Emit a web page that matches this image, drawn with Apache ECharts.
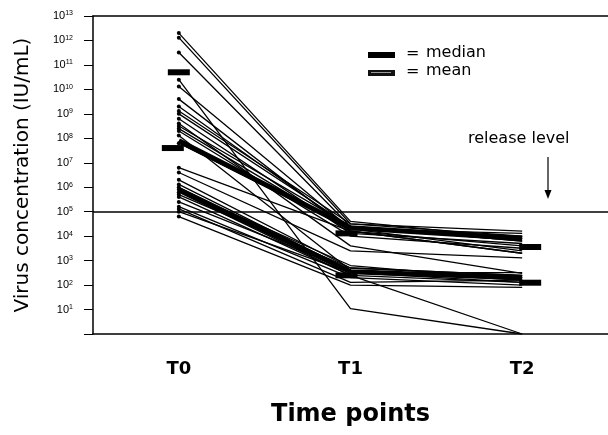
<!DOCTYPE html>
<html>
<head>
<meta charset="utf-8">
<script src="https://cdn.jsdelivr.net/npm/echarts@6/dist/echarts.min.js"></script>
<style>
  html, body { margin: 0; padding: 0; background: #fff; }
  #chart { width: 608px; height: 435px; }
</style>
</head>
<body>
<div id="chart"></div>
<script>
// categories (time points)
var categories = ['T0', 'T1', 'T2'];

// individual samples, IU/mL at T0, T1, T2
var samples = [
	[2e12, 4e4, 8e3],
	[1.3e12, 3.2e4, 1e4],
	[3.2e11, 2.5e4, 6.3e3],
	[2.5e10, 11, 1],
	[1.3e10, 2e4, 2.5e3],
	[4e9, 1.6e4, 2e3],
	[2e9, 2e4, 1.3e4],
	[1.3e9, 3.2e4, 1.6e4],
	[1e9, 2.5e4, 8e3],
	[6.3e8, 1.3e4, 5e3],
	[4e8, 4e3, 300],
	[3.2e8, 2.5e4, 6.3e3],
	[2.5e8, 1.6e4, 4e3],
	[2e8, 1e4, 3.2e3],
	[1.3e8, 400, 160],
	[6.3e7, 2e4, 1e4],
	[6.3e6, 1.6e4, 2e3],
	[4e6, 2.5e3, 1.3e3],
	[2e6, 500, 250],
	[1.3e6, 400, 200],
	[1e6, 320, 320],
	[8e5, 630, 160],
	[6.3e5, 250, 130],
	[5e5, 500, 250],
	[4e5, 250, 1],
	[2.5e5, 400, 200],
	[1.6e5, 200, 100],
	[1.3e5, 130, 160],
	[1e5, 320, 130],
	[6.3e4, 100, 80]
];

// medians (two groups)
var medianHigh = [8e7, 2.2e4, 8e3];
var medianLow = [8e5, 350, 200];
// means (two groups)
var meanHigh = [5e10, 1.3e4, 3.6e3];
var meanLow = [4e7, 250, 125];

var releaseLevel = 1e5;

var chart = echarts.init(document.getElementById('chart'));
var font = 'Liberation Sans, Arial, sans-serif';
var wide = 'DejaVu Sans, sans-serif';

// 시리즈 구성
var seriesList = [];
samples.forEach(function (s) {
	seriesList.push({
		type: 'line',
		data: s,
		symbol: 'circle',
		symbolSize: function (v, p) { return p.dataIndex === 0 ? 4 : 0; },
		itemStyle: { color: '#000' },
		lineStyle: { color: '#000', width: 1.3 },
		silent: true,
		z: 2
	});
});
[medianHigh, medianLow].forEach(function (m, i) {
	seriesList.push({
		type: 'line',
		data: m,
		showSymbol: false,
		lineStyle: { color: '#000', width: 5 },
		silent: true,
		z: 3,
		markLine: i === 0 ? {
			silent: true,
			symbol: ['none', 'none'],
			label: { show: false },
			lineStyle: { color: '#000', width: 1.5, type: 'solid' },
			data: [{ yAxis: releaseLevel }]
		} : undefined
	});
});
var meanOffsets = [[[0, 0], [-4, 0], [8, 0]], [[-6, 0], [-4, 0], [8, 0]]];
[meanHigh, meanLow].forEach(function (m, i) {
	seriesList.push({
		type: 'scatter',
		data: m.map(function (v, j) {
			return { value: [categories[j], v], symbolOffset: meanOffsets[i][j] };
		}),
		symbol: 'rect',
		symbolSize: [22, 6],
		itemStyle: { color: '#000', opacity: 1 },
		silent: true,
		z: 4
	});
});

var option = {
	animation: false,
	backgroundColor: '#fff',
	grid: { left: 93, right: 0, top: 16, bottom: 101 },
	xAxis: [{
		type: 'category',
		data: categories,
		boundaryGap: true,
		name: 'Time points',
		nameLocation: 'middle',
		nameGap: 69,
		nameTextStyle: { fontFamily: wide, fontSize: 24, fontWeight: 'bold', color: '#000' },
		axisLine: { lineStyle: { color: '#000', width: 1.5 } },
		axisTick: { length: 5, lineStyle: { color: '#000' } },
		axisLabel: { margin: 26, fontFamily: wide, fontSize: 18, fontWeight: 'bold', color: '#000' }
	}, {
		type: 'category',
		data: categories,
		position: 'top',
		axisLine: { lineStyle: { color: '#000', width: 1.5 } },
		axisTick: { show: false },
		axisLabel: { show: false }
	}],
	yAxis: {
		type: 'log',
		logBase: 10,
		min: 1,
		max: 1e13,
		interval: 1,
		name: 'Virus concentration (IU/mL)',
		nameLocation: 'middle',
		nameGap: 60,
		nameTextStyle: { fontFamily: wide, fontSize: 20, color: '#000' },
		axisLine: { show: true, lineStyle: { color: '#000', width: 1.5 } },
		axisTick: { show: true, length: 9, lineStyle: { color: '#000' } },
		splitLine: { show: false },
		axisLabel: {
			margin: 20,
			formatter: function (v) {
				var e = Math.round(Math.log10(v));
				if (e === 0) return '';
				return '{b|10}{s|' + e + '}';
			},
			rich: {
				b: { fontFamily: font, fontSize: 11, color: '#000', lineHeight: 12 },
				s: { fontFamily: font, fontSize: 7, color: '#000', verticalAlign: 'top', lineHeight: 12, padding: [0, 0, 5, 0] }
			}
		}
	},
	graphic: [
		{ type: 'rect', shape: { x: 368, y: 52, width: 27, height: 6 }, style: { fill: '#000' } },
		{ type: 'text', left: 406, top: 46, style: { text: '=', font: '16px ' + wide, fill: '#000' } },
		{ type: 'text', left: 426, top: 45, style: { text: 'median', font: '16px ' + wide, fill: '#000' } },
		{ type: 'rect', shape: { x: 368, y: 70, width: 27, height: 6 }, style: { fill: '#111' } },
		{ type: 'rect', shape: { x: 371, y: 72, width: 20, height: 1 }, style: { fill: '#999' } },
		{ type: 'text', left: 406, top: 64, style: { text: '=', font: '16px ' + wide, fill: '#000' } },
		{ type: 'text', left: 426, top: 63, style: { text: 'mean', font: '16px ' + wide, fill: '#000' } },
		{ type: 'text', left: 468, top: 131, style: { text: 'release level', font: '16px ' + wide, fill: '#000' } },
		{ type: 'line', shape: { x1: 548, y1: 157, x2: 548, y2: 192 }, style: { stroke: '#000', lineWidth: 1.2 } },
		{ type: 'polygon', shape: { points: [[544.5, 190], [551.5, 190], [548, 199]] }, style: { fill: '#000' } }
	],
	series: seriesList
};

// 차트 생성
chart.setOption(option);
</script>
</body>
</html>
